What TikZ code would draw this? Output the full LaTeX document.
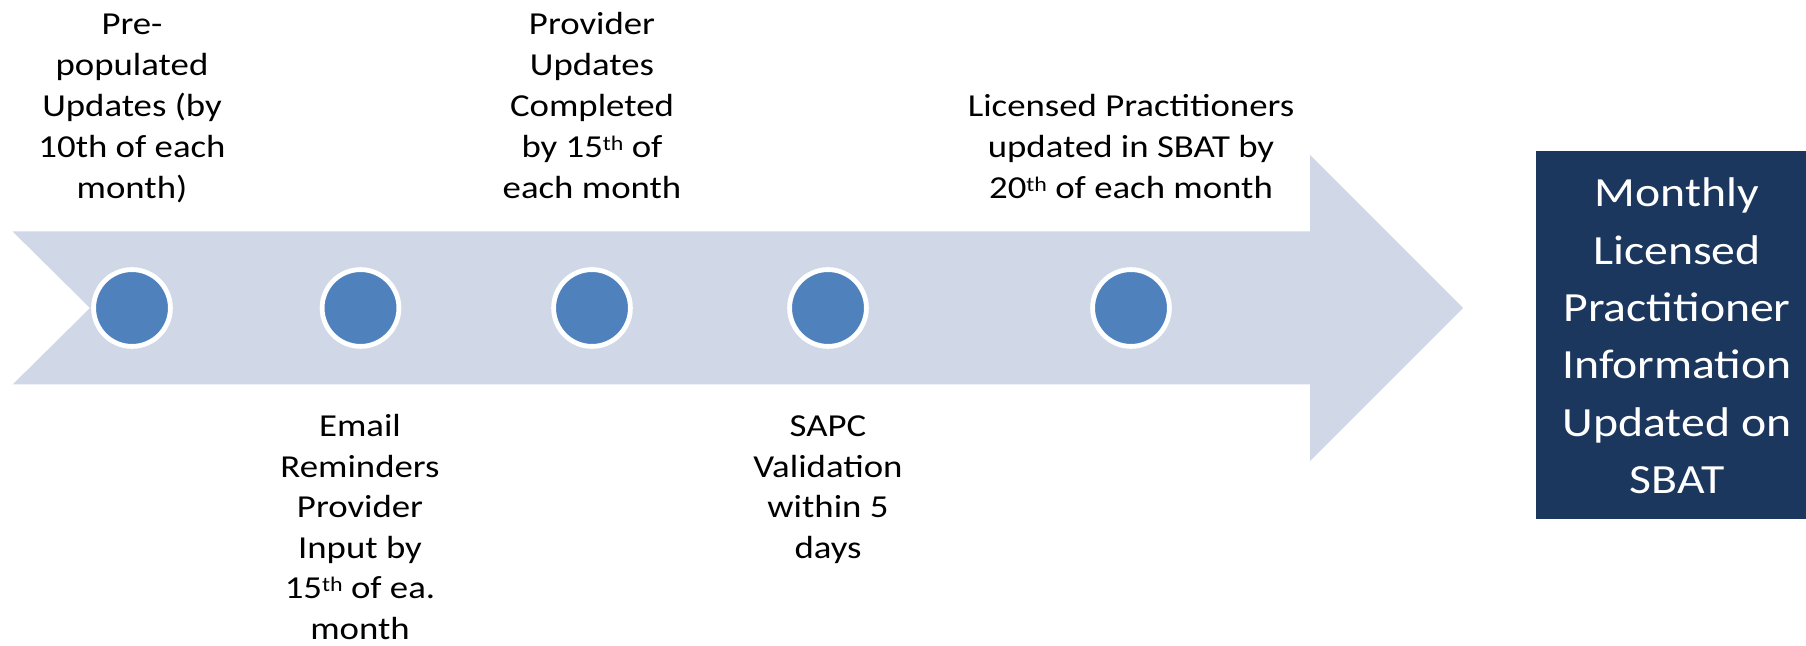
\documentclass[tikz,border=0pt]{standalone}
\usepackage{fontspec}
\setmainfont{Carlito}[FakeStretch=1.15]
\definecolor{bandcol}{HTML}{D0D8E8}
\definecolor{dotblue}{HTML}{4F81BD}
\definecolor{navy}{HTML}{1C375E}
\newcommand{\stk}[1]{\vtop{\halign{\hfil##\hfil\cr#1\crcr}}}
\newfont{\supfont}{"Carlito:extend=1.15" at 10.4pt}
\newcommand{\sups}[1]{\raise3.6pt\hbox{\supfont #1}}
\begin{document}
\begin{tikzpicture}[x={(0.5pt,0)},y={(0,-0.5pt)},
  lbl/.style={inner sep=0pt, anchor=base, font=\fontsize{16pt}{20.5pt}\selectfont},
  lblb/.style={lbl, font=\fontsize{16pt}{20.3pt}\selectfont},
  big/.style={inner sep=0pt, anchor=base, text=white, font=\fontsize{20.75pt}{28.65pt}\selectfont},
  dot/.style={circle, fill=dotblue, draw=white, line width=2.4pt, minimum size=38.4pt, inner sep=0pt}]
\useasboundingbox (0,0) rectangle (1806,646);
% timeline arrow
\fill[bandcol] (12.6,231.5) -- (1310,231.5) -- (1310,155) -- (1463,308) -- (1310,461)
  -- (1310,384.5) -- (12.6,384.5) -- (90,308) -- cycle;
% result box
\fill[navy] (1536,150.7) rectangle (1810,519);
% dots
\node[dot] (c1) at (132,308) {};
\node[dot] (c2) at (360.5,308) {};
\node[dot] (c3) at (592,308) {};
\node[dot] (c4) at (828,308) {};
\node[dot] (c5) at (1131,308) {};
% labels above
\node[lbl] (t1) at (132,35) {\stk{Pre-\cr populated\cr Updates (by\cr 10th of each\cr month)}};
\node[lbl] (t3) at (592,35) {\stk{Provider\cr Updates\cr Completed\cr by 15\sups{th} of\cr each month}};
\node[lbl] (t5) at (1131,117) {\stk{Licensed Practitioners\cr updated in SBAT by\cr 20\sups{th} of each month}};
% labels below
\node[lblb] (t2) at (360,436.5) {\stk{Email\cr Reminders\cr Provider\cr Input by\cr 15\sups{th} of ea.\cr month}};
\node[lblb] (t4) at (828,436.5) {\stk{SAPC\cr Validation\cr within 5\cr days}};
% box text
\node[big] (res) at (1677,207) {\stk{Monthly\cr Licensed\cr Practitioner\cr Information\cr Updated on\cr SBAT}};
\end{tikzpicture}
\end{document}
